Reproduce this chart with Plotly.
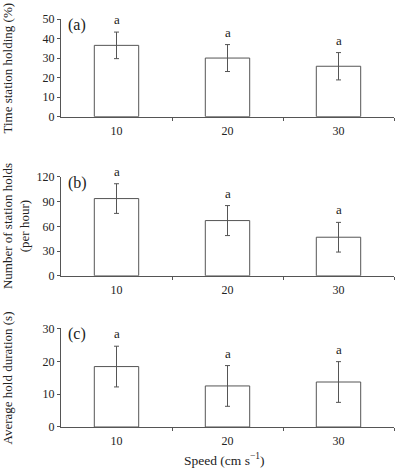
import plotly.graph_objects as go

speeds = ["10", "20", "30"]
time_holding = [36.5, 30.0, 25.8]
time_holding_err = [6.8, 6.9, 7.0]
num_holds = [93.7, 67.0, 46.8]
num_holds_err = [18.0, 18.2, 18.0]
hold_duration = [18.4, 12.5, 13.7]
hold_duration_err = [6.2, 6.2, 6.2]
letters = ["a", "a", "a"]
panel_labels = ["(a)", "(b)", "(c)"]
y_titles = ["Time station holding (%)", "Number of station holds<br>(per hour)", "Average hold duration (s)"]
y_ranges = [[0, 50], [0, 120], [0, 30]]
y_dticks = [10, 30, 10]
x_title = "Speed (cm s<sup>−1</sup>)"

FONT = "Liberation Serif"
LINE = "#555555"
TEXT = "#222222"

xpos = [0.5, 1.5, 2.5]
series = [(time_holding, time_holding_err), (num_holds, num_holds_err), (hold_duration, hold_duration_err)]
domains = [[0.7607, 1.0], [0.3706, 0.613], [0.0, 0.2415]]

fig = go.Figure()
annotations = []
layout = {}
for i, (vals, errs) in enumerate(series):
    n = "" if i == 0 else str(i + 1)
    fig.add_trace(go.Bar(
        x=xpos, y=vals, width=0.4,
        marker=dict(color="white", line=dict(color=LINE, width=1)),
        error_y=dict(type="data", array=errs, visible=True, color=LINE, thickness=1, width=2.5),
        xaxis="x" + n, yaxis="y" + n, showlegend=False, hoverinfo="skip",
    ))
    layout["xaxis" + n] = dict(
        domain=[0, 1], anchor="y" + n, range=[0, 3],
        showline=True, linecolor=LINE, linewidth=1, showgrid=False, zeroline=False,
        tickmode="array", tickvals=xpos, ticktext=speeds,
        ticks="outside", ticklen=3, tickcolor="rgba(0,0,0,0)",
        tickfont=dict(family=FONT, size=12, color=TEXT),
        minor=dict(tickmode="array", tickvals=[1, 2, 3], ticks="outside", ticklen=3, tickcolor=LINE, tickwidth=1),
        fixedrange=True,
    )
    layout["yaxis" + n] = dict(
        domain=domains[i], anchor="x" + n, range=y_ranges[i], dtick=y_dticks[i],
        showline=True, linecolor=LINE, linewidth=1, showgrid=False, zeroline=False,
        ticks="outside", ticklen=3, tickcolor=LINE,
        tickfont=dict(family=FONT, size=12, color=TEXT),
        fixedrange=True,
    )
    for xv, v, e, L in zip(xpos, vals, errs, letters):
        annotations.append(dict(
            x=xv, y=v + e, xref="x" + n, yref="y" + n, text=L, showarrow=False,
            yanchor="bottom", yshift=3, font=dict(family=FONT, size=13, color=TEXT),
        ))
    annotations.append(dict(
        x=0.014, y=0.94, xref="paper", yref=("y" + n + " domain"), text=panel_labels[i],
        showarrow=False, xanchor="left", yanchor="middle",
        font=dict(family=FONT, size=16, color=TEXT),
    ))
    annotations.append(dict(
        x=(-0.16 if i != 1 else -0.133), y=0.5, xref="paper", yref=("y" + n + " domain"),
        text=y_titles[i], textangle=-90, showarrow=False, xanchor="center", yanchor="middle",
        font=dict(family=FONT, size=13, color=TEXT),
    ))

annotations.append(dict(
    x=0.49, y=-0.079, xref="paper", yref="paper", text=x_title, showarrow=False,
    xanchor="center", yanchor="middle", font=dict(family=FONT, size=13.5, color=TEXT),
))

fig.update_layout(
    width=395, height=468, autosize=False,
    margin=dict(l=61, r=1, t=19, b=41),
    paper_bgcolor="white", plot_bgcolor="white",
    font=dict(family=FONT, color=TEXT),
    annotations=annotations, **layout,
)

fig.write_html(
    "out.html",
    config={"displayModeBar": False},
    post_script="document.body.style.margin='0';document.body.style.padding='0';",
)
